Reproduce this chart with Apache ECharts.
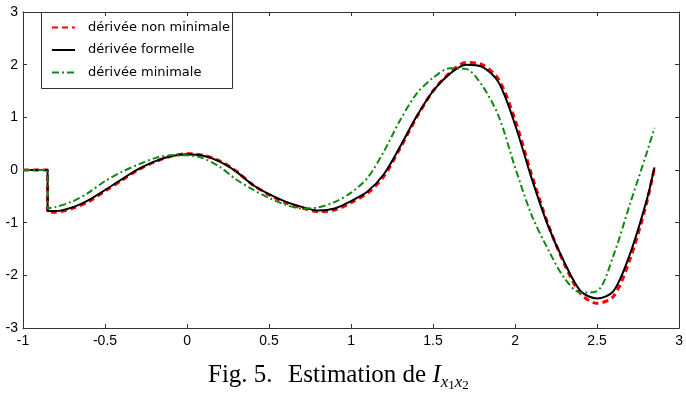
<!DOCTYPE html>
<html>
<head>
<meta charset="utf-8">
<script src="https://cdn.jsdelivr.net/npm/echarts@6/dist/echarts.min.js"></script>
<style>
html,body{margin:0;padding:0;background:#fff;}
#c{width:686px;height:403px;}
</style>
</head>
<body>
<div id="c"></div>
<script>
const seriesNames = ['dérivée non minimale', 'dérivée formelle', 'dérivée minimale'];
const xTickLabels = ['-1', '-0.5', '0', '0.5', '1', '1.5', '2', '2.5', '3'];
const yTickLabels = ['-3', '-2', '-1', '0', '1', '2', '3'];
const captionParts = ['Fig. 5.', 'Estimation de ', 'I', 'x', '1', 'x', '2'];

const xs = [-1, -0.9, -0.85, -0.85, -0.8, -0.7, -0.6, -0.5, -0.4, -0.3, -0.2, -0.1, 0, 0.1, 0.2, 0.3, 0.4, 0.5, 0.6, 0.7, 0.8, 0.9, 1.0, 1.1, 1.2, 1.3, 1.4, 1.5, 1.6, 1.7, 1.8, 1.9, 2.0, 2.1, 2.2, 2.3, 2.4, 2.5, 2.6, 2.7, 2.8, 2.85];

const yRed = [0, 0, 0, -0.8, -0.8, -0.73, -0.6, -0.4, -0.2, 0.0, 0.15, 0.26, 0.31, 0.28, 0.17, -0.02, -0.28, -0.47, -0.62, -0.72, -0.79, -0.76, -0.62, -0.44, -0.12, 0.42, 1.0, 1.5, 1.84, 2.04, 2.0, 1.72, 0.95, -0.08, -1.02, -1.78, -2.35, -2.53, -2.4, -1.7, -0.65, 0.05];

const yBlack = [0, 0, 0, -0.78, -0.78, -0.71, -0.57, -0.38, -0.18, 0.01, 0.16, 0.26, 0.3, 0.27, 0.16, -0.03, -0.28, -0.46, -0.6, -0.7, -0.77, -0.73, -0.59, -0.41, -0.08, 0.45, 1.02, 1.5, 1.82, 2.0, 1.96, 1.66, 0.86, -0.15, -1.05, -1.75, -2.3, -2.44, -2.3, -1.6, -0.6, 0.05];

const yGreen = [0, 0, 0, -0.73, -0.7, -0.6, -0.43, -0.21, -0.04, 0.1, 0.22, 0.28, 0.28, 0.22, 0.06, -0.18, -0.37, -0.53, -0.66, -0.73, -0.71, -0.61, -0.43, -0.15, 0.35, 0.95, 1.45, 1.75, 1.93, 1.92, 1.6, 1.02, 0.05, -0.85, -1.5, -2.05, -2.33, -2.3, -1.62, -0.65, 0.3, 0.8];

function pairs(ys) { return xs.map((x, i) => [x, ys[i]]); }

const chart = echarts.init(document.getElementById('c'), null, {renderer: 'canvas'});
const axisColor = '#333';
const tickFont = {fontFamily: 'Liberation Sans', fontSize: 14, color: '#000'};

const baseX = {
  type: 'value', min: -1, max: 3, interval: 0.5,
  splitLine: {show: false},
  axisLine: {show: true, onZero: false, lineStyle: {color: axisColor, width: 1}},
  axisTick: {show: true, inside: true, length: 4, lineStyle: {color: axisColor}}
};
const baseY = {
  type: 'value', min: -3, max: 3, interval: 1,
  splitLine: {show: false},
  axisLine: {show: true, onZero: false, lineStyle: {color: axisColor, width: 1}},
  axisTick: {show: true, inside: true, length: 4, lineStyle: {color: axisColor}}
};

// caption built from measured text pieces (main words, italic I, subscripts)
const capStyles = [
  {size: 25, italic: false, base: 383, start: 208},
  {size: 25, italic: false, base: 383, start: 288},
  {size: 25, italic: true, base: 383},
  {size: 17, italic: true, base: 388},
  {size: 13, italic: false, base: 390},
  {size: 17, italic: true, base: 388},
  {size: 13, italic: false, base: 390}
];
const mctx = document.createElement('canvas').getContext('2d');
let cx = 0;
const captionGraphics = captionParts.map((t, i) => {
  const s = capStyles[i];
  mctx.font = (s.italic ? 'italic ' : '') + s.size + 'px "Liberation Serif"';
  const w = mctx.measureText(t).width;
  if (s.start !== undefined) cx = s.start;
  const g = {
    type: 'text', x: cx, y: s.base - s.size * 0.32,
    style: {text: t, fontFamily: 'Liberation Serif', fontSize: s.size,
      fontStyle: s.italic ? 'italic' : 'normal', fill: '#000',
      align: 'left', verticalAlign: 'middle'}
  };
  cx += w;
  return g;
});

chart.setOption({
  backgroundColor: '#fff',
  animation: false,
  grid: {left: 23, right: 2, top: 12, bottom: 75, containLabel: false},
  xAxis: [
    Object.assign({}, baseX, {position: 'bottom',
      axisLabel: Object.assign({margin: 6, formatter: v => xTickLabels[Math.round((v + 1) * 2)]}, tickFont)}),
    Object.assign({}, baseX, {position: 'top', axisLabel: {show: false}})
  ],
  yAxis: [
    Object.assign({}, baseY, {position: 'left',
      axisLabel: Object.assign({margin: 5, formatter: v => yTickLabels[Math.round(v + 3)]}, tickFont)}),
    Object.assign({}, baseY, {position: 'right', axisLabel: {show: false}})
  ],
  legend: {
    orient: 'vertical', left: 46, top: 16,
    itemWidth: 23, itemHeight: 14, itemGap: 9.5,
    itemStyle: {opacity: 0, borderWidth: 0},
    textStyle: {fontFamily: 'DejaVu Sans', fontSize: 13, color: '#000', padding: [0, 0, 0, 8]},
    data: seriesNames
  },
  graphic: [{
    type: 'rect', shape: {x: 41.5, y: 12.5, width: 191, height: 76},
    style: {fill: null, stroke: '#333', lineWidth: 1}, z: 100
  }].concat(captionGraphics),
  series: [
    {name: seriesNames[0], type: 'line', data: pairs(yRed), showSymbol: false, symbol: 'none', smooth: 0.3,
      lineStyle: {color: '#ff0000', width: 3, type: [6, 4]}, itemStyle: {color: '#ff0000'}, z: 2},
    {name: seriesNames[1], type: 'line', data: pairs(yBlack), showSymbol: false, symbol: 'none', smooth: 0.3,
      lineStyle: {color: '#000', width: 2, type: 'solid'}, itemStyle: {color: '#000'}, z: 3},
    {name: seriesNames[2], type: 'line', data: pairs(yGreen), showSymbol: false, symbol: 'none', smooth: 0.3,
      lineStyle: {color: '#118811', width: 2, type: [7, 3, 2, 3]}, itemStyle: {color: '#118811'}, z: 4}
  ]
});
</script>
</body>
</html>
